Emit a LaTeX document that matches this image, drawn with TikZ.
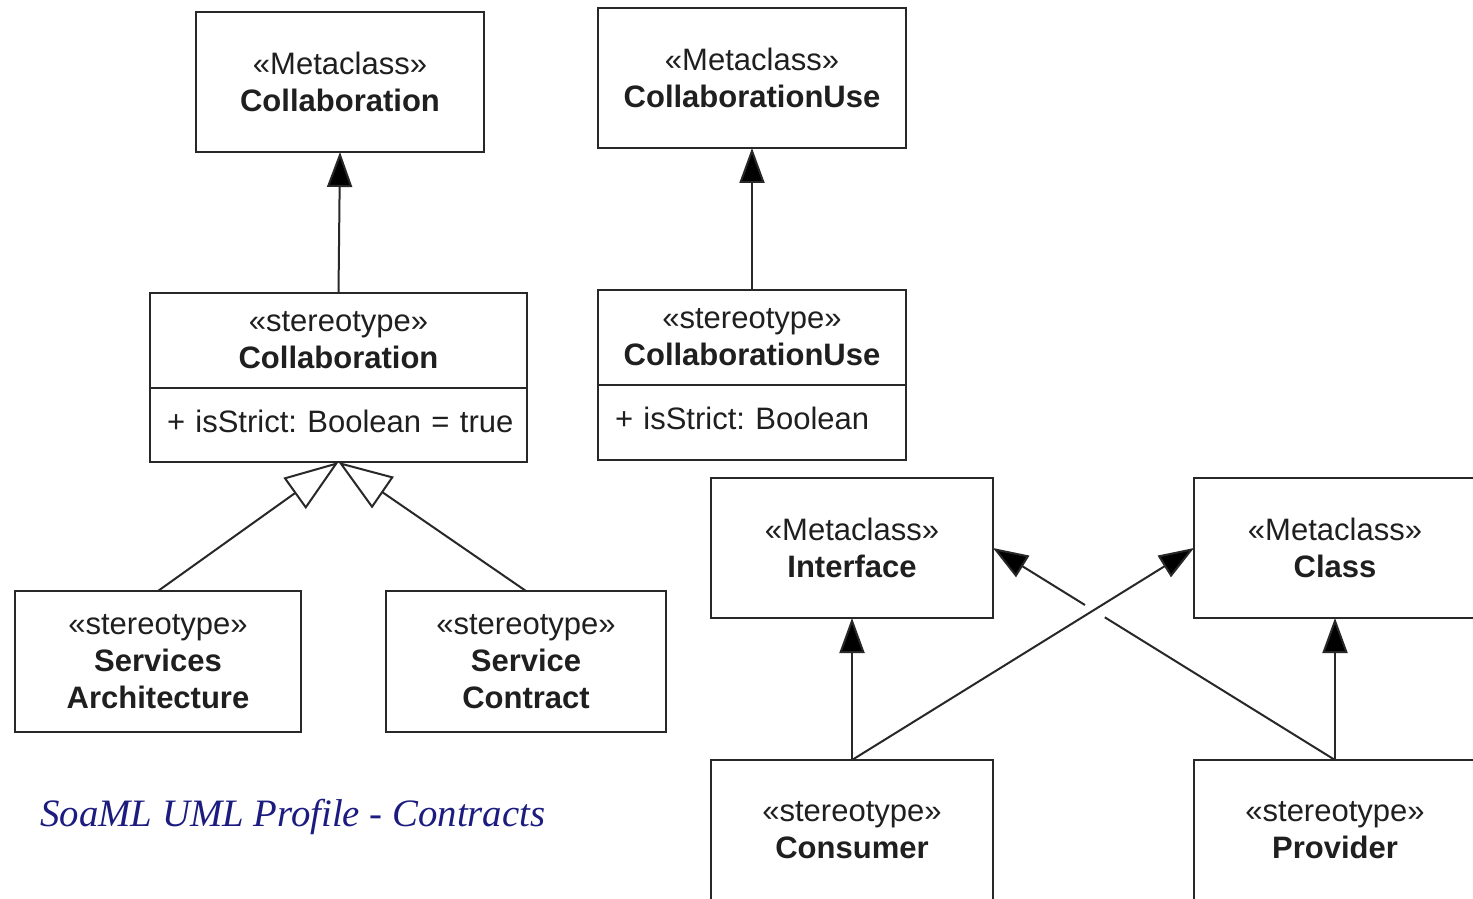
\documentclass[tikz,border=0pt]{standalone}
\usepackage{fontspec}
\setmainfont{Liberation Sans}
\newfontfamily\captionserif{Liberation Serif}
\usetikzlibrary{arrows.meta,calc}
\definecolor{edgegrey}{RGB}{40,40,40}
\definecolor{captionblue}{RGB}{28,28,128}
\frenchspacing
\begin{document}
\begin{tikzpicture}[x=0.5pt,y=-0.5pt,
  umlbox/.style={draw=edgegrey, line width=1.3pt, rectangle, inner sep=0pt,
    outer sep=0pt, align=center, text=black!88,
    font=\fontsize{15.5}{18.5}\selectfont},
  attrbox/.style={umlbox, align=left, inner xsep=8.5pt, text depth=4pt},
  assoc/.style={draw=edgegrey, line width=1pt,
    -{Triangle[length=17.5pt,width=12.5pt,fill=black]}},
  general/.style={draw=edgegrey, line width=1pt,
    -{Triangle[open,length=27pt,width=19pt,fill=white]}}]
\useasboundingbox (0,0) rectangle (1473,899);
\fill[white] (0,0) rectangle (1473,899);
\clip (0,0) rectangle (1473,899);

% metaclasses
\node[umlbox, minimum width=144pt, minimum height=70pt] (mcollab) at (340,82)
  {«Metaclass»\\\textbf{Collaboration}};
\node[umlbox, minimum width=154pt, minimum height=70pt] (mcuse) at (752,78)
  {«Metaclass»\\\textbf{CollaborationUse}};
\node[umlbox, minimum width=141pt, minimum height=70pt] (iface) at (852,548)
  {«Metaclass»\\\textbf{Interface}};
\node[umlbox, minimum width=141pt, minimum height=70pt] (mclass) at (1335,548)
  {«Metaclass»\\\textbf{Class}};

% stereotypes with an attribute compartment
\node[umlbox, minimum width=188.5pt, minimum height=47.5pt] (scollab) at (338.5,340.5)
  {«stereotype»\\\textbf{Collaboration}};
\node[attrbox, text width=171.5pt, minimum height=37pt, anchor=north] (scollabattr)
  at (scollab.south) {\mbox{+ isStrict: Boolean = true}};
\node[umlbox, minimum width=154pt, minimum height=47.5pt] (scuse) at (752,337.5)
  {«stereotype»\\\textbf{CollaborationUse}};
\node[attrbox, text width=137pt, minimum height=37.5pt, anchor=north] (scuseattr)
  at (scuse.south) {\mbox{+ isStrict: Boolean}};

% stereotypes
\node[umlbox, minimum width=143pt, minimum height=70.5pt] (sarch) at (158,661.5)
  {«stereotype»\\\textbf{Services}\\\textbf{Architecture}};
\node[umlbox, minimum width=140pt, minimum height=70.5pt] (scontract) at (526,661.5)
  {«stereotype»\\\textbf{Service}\\\textbf{Contract}};
\node[umlbox, minimum width=141pt, minimum height=70pt] (consumer) at (852,830)
  {«stereotype»\\\textbf{Consumer}};
\node[umlbox, minimum width=141pt, minimum height=70pt] (provider) at (1335,830)
  {«stereotype»\\\textbf{Provider}};

% extensions
\draw[assoc] (scollab.north) -- (mcollab.south);
\draw[assoc] (scuse.north) -- (mcuse.south);
\draw[assoc] (consumer.north) -- (iface.south);
\draw[assoc] (provider.north) -- (mclass.south);
\draw[assoc] (consumer.north) -- (mclass.west);
% this line hops over the crossing one
\draw[draw=edgegrey, line width=1pt] (provider.north) -- ($(provider.north)!0.673!(iface.east)$);
\draw[assoc] ($(provider.north)!0.731!(iface.east)$) -- (iface.east);

% generalizations
\draw[general] (sarch.north) -- (scollabattr.south);
\draw[general] (scontract.north) -- (scollabattr.south);

% caption
\node[anchor=base west, inner sep=0pt, text=captionblue,
  font=\captionserif\itshape\fontsize{19.4}{23}\selectfont] (caption) at (40,826)
  {SoaML UML Profile - Contracts};
\end{tikzpicture}
\end{document}
